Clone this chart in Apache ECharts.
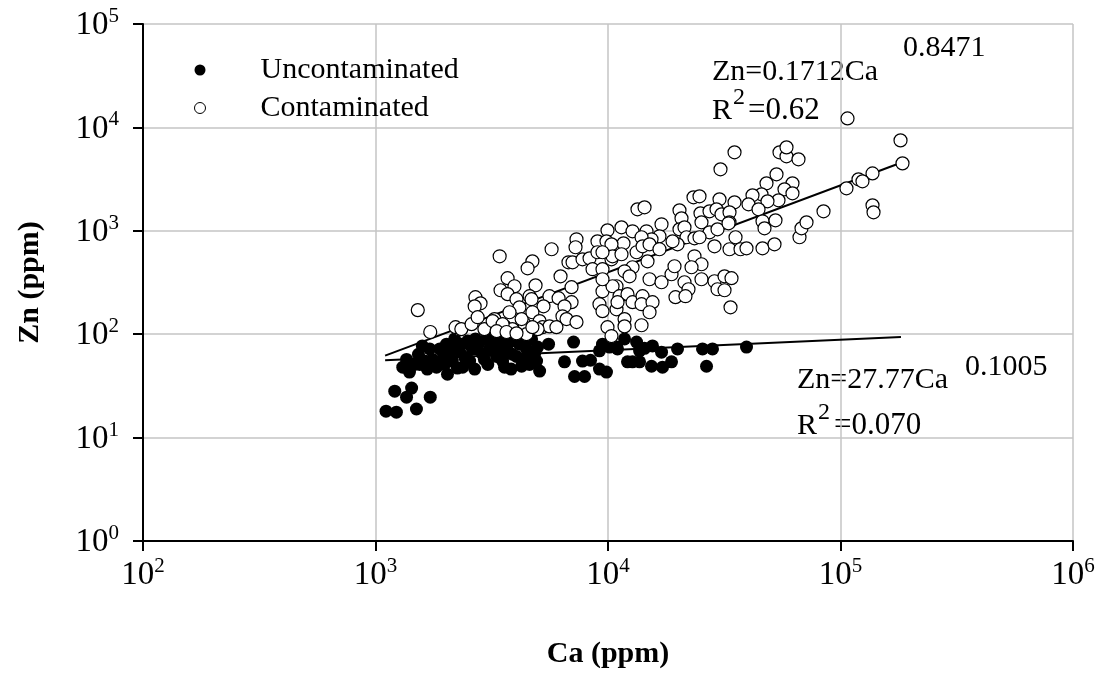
<!DOCTYPE html>
<html>
<head>
<meta charset="utf-8">
<script src="https://cdn.jsdelivr.net/npm/echarts@6/dist/echarts.min.js"></script>
<style>
  html, body { margin: 0; padding: 0; background: #fff; }
  #chart { width: 1105px; height: 675px; }
</style>
</head>
<body>
<div id="chart"></div>
<script>
// Uncontaminated samples (Ca ppm, Zn ppm)
const uncCa = [1110, 1230, 1500, 1210, 1360, 1430, 1720, 1310, 1400, 1360, 1530, 1550, 1630, 1710, 1760, 1830,
  1890, 1940, 2040, 2080, 2020, 2140, 2250, 2190, 2340, 2420, 2490, 2540, 2610, 2690, 2800, 2890, 3000, 3090,
  3220, 3320, 3420, 3520, 3620, 3770, 3880, 4040, 4160, 4290, 4460, 4600, 4690, 4830, 4980, 2300, 2750, 3160,
  3700, 4380, 3960, 3350, 2940, 5550, 6500, 7110, 7180, 7930, 7770, 8410, 9190, 9850, 9190, 10150, 10990,
  12130, 10880, 11780, 13270, 13670, 12750, 13670, 15390, 15540, 16990, 17160, 18760, 19910, 25500, 28150,
  26530, 39420, 9470, 14360, 1470, 1670, 1980, 2370, 2670, 3040, 3590, 3830, 4250, 2540, 3420, 2190, 1980,
  4930, 5080, 1590]
const uncZn = [18.0, 17.6, 18.9, 28.1, 24.6, 30.1, 24.6, 48, 43, 57, 64, 51, 55, 72, 57, 48,
  72, 57, 41, 64, 80, 55, 47, 72, 80, 60, 86, 55, 72, 90, 84, 64, 90, 72,
  80, 61, 90, 55, 75, 84, 64, 61, 80, 90, 72, 51, 90, 64, 75, 69, 72, 94,
  69, 57, 94, 72, 57, 80, 54, 84, 39, 39, 55, 56, 46, 43, 69, 75, 72,
  54, 75, 90, 84, 69, 54, 54, 49, 77, 67, 48, 54, 72, 72, 72,
  49, 75, 80, 73, 51, 46, 51, 48, 46, 51, 48, 46, 49, 80, 69, 90, 69,
  55, 44, 77]

// Contaminated samples (Ca ppm, Zn ppm)
const contCa = [1520, 1720, 2280, 2210, 2340, 2590, 2690, 2830, 2670, 2750, 2940, 3250, 3190, 3590, 3420, 3700,
  3450, 4730, 4510, 3960, 3700, 4880, 4600, 5720, 6250, 5600, 5280, 6130, 6970, 6970, 6500, 6370, 7320, 7250,
  6760, 7040, 7770, 8330, 9010, 9950, 9850, 10560, 9010, 8580, 9470, 10350, 10880, 9470, 9190, 9470, 10880,
  9950, 10350, 4040, 4160, 4380, 4250, 4730, 5080, 5230, 5600, 4980, 4460, 3880, 3520, 3320, 3660, 4040, 6630,
  7320, 6000, 35010, 54660, 58580, 65970, 30470, 53060, 48050, 62150, 57430, 62150, 45740, 41830, 54120,
  48530, 40210, 44410, 23320, 24750, 30170, 35010, 13390, 14360, 20300, 20710, 24990, 27330, 29290, 30770,
  33320, 25240, 33320, 46190, 52530, 47110, 16990, 11430, 12750, 14640, 20300, 21330, 27330, 29580, 16650,
  15390, 13940, 11660, 21760, 23550, 24750, 35360, 19910, 18950, 28710, 33320, 37150, 39420, 46190, 52020,
  66630, 67960, 71420, 84520, 106100, 137300, 138700, 184800, 137300, 119500, 124300, 10350, 10460, 11430,
  13270, 14080, 15090, 16650, 14790, 12750, 11780, 12380, 10460, 11210, 12130, 10990, 12750, 14080, 13940,
  15540, 15090, 11780, 11780, 13940, 15090, 16990, 18760, 19320, 21330, 22190, 19510, 21540, 23550, 25240,
  22870, 25240, 28710, 31710, 33980, 29580, 31710, 33650, 107200, 181200, 58580, 32990, 9470, 9470, 3770,
  4690, 4730]
const contZn = [171, 105, 112, 117, 112, 125, 228, 199, 186, 146, 112, 140, 134, 119, 567, 348,
  266, 507, 434, 291, 244, 297, 233, 663, 363, 233, 186, 223, 285, 204, 186, 149, 828, 693,
  496, 496, 530, 542, 791, 1011, 791, 708, 620, 425, 425, 530, 291, 260, 195, 167, 174,
  117, 96, 218, 182, 125, 140, 163, 134, 117, 119, 112, 100, 112, 125, 107, 105, 102, 140,
  131, 117, 5740, 5740, 5250, 4910, 3930, 3515, 2877, 2877, 2518, 2303, 2253, 2203, 1970,
  1928, 1803, 1613, 2107, 2154, 2015, 1886, 1613, 1687, 1578, 1320, 1476, 1543, 1613, 1443,
  1509, 1208, 1208, 1236, 1263, 1057, 1156, 1081, 989, 989, 1034, 1081, 967, 1034, 885,
  828, 866, 757, 866, 846, 866, 866, 740, 791, 708, 663, 663, 677, 677, 740,
  866, 1057, 1208, 1543, 2574, 1764, 1509, 4490, 3590, 3145, 3008, 740, 567, 593,
  620, 708, 740, 663, 507, 444, 406, 363, 291, 233, 244, 204, 204, 233, 195,
  204, 163, 140, 119, 122, 340, 318, 380, 454, 318, 272, 228, 233, 567, 475,
  444, 340, 325, 363, 348, 272, 266, 182, 12220, 7490, 6410, 1182, 620, 340, 163,
  218, 117]

// fitted trend lines, end points
const contFitCa = [1100, 182000]
const contFitZn = [62, 4550]
const uncFitCa = [1100, 182000]
const uncFitZn = [56, 94]

const serif = 'Liberation Serif'

function pairs(xs, ys) {
  return xs.map(function(x, i) { return [x, ys[i]] })
}

function powLabel(v) {
  return '{b|10}{s|' + Math.round(Math.log10(v)) + '}'
}

const tickRich = {
  b: { fontFamily: serif, fontSize: 33, color: '#000', lineHeight: 36, verticalAlign: 'bottom' },
  s: { fontFamily: serif, fontSize: 21, color: '#000', lineHeight: 22, verticalAlign: 'top' }
}

function txt(x, y, text, size) {
  return {
    type: 'text', x: x, y: y, silent: true,
    style: { text: text, fontFamily: serif, fontSize: size, fill: '#000', verticalAlign: 'middle' }
  }
}

const chart = echarts.init(document.getElementById('chart'))

chart.setOption({
  animation: false,
  backgroundColor: '#fff',
  grid: { left: 143, right: 32, top: 24, bottom: 134 },
  xAxis: {
    type: 'log',
    logBase: 10,
    min: 100,
    max: 1000000,
    name: 'Ca (ppm)',
    nameLocation: 'middle',
    nameGap: 98,
    nameTextStyle: { fontFamily: serif, fontSize: 30, fontWeight: 'bold', color: '#000' },
    axisLine: { lineStyle: { color: '#000', width: 2 } },
    axisTick: { length: 10, lineStyle: { color: '#000', width: 2 } },
    minorTick: { show: false },
    splitLine: { show: true, lineStyle: { color: '#c4c4c4', width: 1.5 } },
    axisLabel: { margin: 15, formatter: powLabel, rich: tickRich }
  },
  yAxis: {
    type: 'log',
    logBase: 10,
    min: 1,
    max: 100000,
    name: 'Zn (ppm)',
    nameLocation: 'middle',
    nameGap: 98,
    nameRotate: 90,
    nameTextStyle: { fontFamily: serif, fontSize: 30, fontWeight: 'bold', color: '#000' },
    axisLine: { lineStyle: { color: '#000', width: 2 } },
    axisTick: { length: 10, lineStyle: { color: '#000', width: 2 } },
    splitLine: { show: true, lineStyle: { color: '#c4c4c4', width: 1.5 } },
    axisLabel: { margin: 24, formatter: powLabel, rich: tickRich }
  },
  legend: {
    orient: 'vertical',
    left: 189,
    top: 50,
    itemWidth: 11,
    itemHeight: 11,
    itemGap: 8,
    textStyle: { fontFamily: serif, fontSize: 30, color: '#000', padding: [0, 0, 0, 50] },
    data: [
      { name: 'Uncontaminated', icon: 'circle', itemStyle: { color: '#000' } },
      { name: 'Contaminated', icon: 'circle', itemStyle: { color: '#fff', borderColor: '#000', borderWidth: 1 } }
    ]
  },
  graphic: [
    txt(712, 72, 'Zn=0.1712Ca', 30),
    txt(903, 48, '0.8471', 30),
    txt(712, 111, 'R', 30),
    txt(733, 98, '2', 24),
    txt(748, 111, '=0.62', 31),
    txt(797, 380, 'Zn=27.77Ca', 30),
    txt(965, 367, '0.1005', 30),
    txt(797, 426, 'R', 30),
    txt(818, 413, '2', 24),
    txt(834, 426, '=0.070', 31)
  ],
  series: [
    {
      name: 'uncFit',
      type: 'line',
      data: pairs(uncFitCa, uncFitZn),
      showSymbol: false,
      silent: true,
      z: 1,
      lineStyle: { color: '#000', width: 2 }
    },
    {
      name: 'contFit',
      type: 'line',
      data: pairs(contFitCa, contFitZn),
      showSymbol: false,
      silent: true,
      z: 1,
      lineStyle: { color: '#000', width: 2 }
    },
    {
      name: 'Uncontaminated',
      type: 'scatter',
      data: pairs(uncCa, uncZn),
      symbol: 'circle',
      symbolSize: 13,
      z: 3,
      itemStyle: { color: '#000', opacity: 1 }
    },
    {
      name: 'Contaminated',
      type: 'scatter',
      data: pairs(contCa, contZn),
      symbol: 'circle',
      symbolSize: 13,
      z: 4,
      itemStyle: { color: '#fff', borderColor: '#000', borderWidth: 1.2, opacity: 1 }
    }
  ]
})
</script>
</body>
</html>
